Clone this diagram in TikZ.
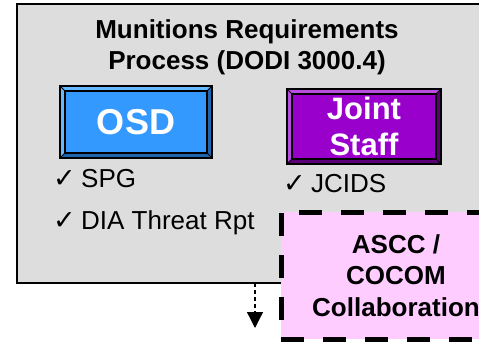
\documentclass[tikz,border=0pt]{standalone}
\usepackage{fontspec}
\setmainfont{Liberation Sans}
\newfontfamily\symfont{DejaVu Sans}
\usetikzlibrary{arrows.meta,calc}

\definecolor{panelgray}{HTML}{DDDDDD}
\definecolor{osdblue}{HTML}{3399FF}
\definecolor{osdlight}{HTML}{66B8FF}
\definecolor{osddark}{HTML}{1F66B0}
\definecolor{jsviolet}{HTML}{9900CC}
\definecolor{jslight}{HTML}{B84DE0}
\definecolor{jsdark}{HTML}{5C007A}
\definecolor{collabpink}{HTML}{FFCCFF}

\newcommand{\tick}{\makebox[28pt][l]{\symfont\fontsize{27}{27}\selectfont ✓}}
% raised border round a button node: #1 node, #2 light, #3 dark, #4 depth
\newcommand{\bevel}[4]{%
  \fill[#2] ($(#1.north west)+(-#4,-#4)$) -- ($(#1.north east)+(#4,-#4)$) -- (#1.north east)
    -- (#1.north west) -- (#1.south west) -- ($(#1.south west)+(-#4,#4)$) -- cycle;
  \fill[#3] ($(#1.north east)+(#4,-#4)$) -- ($(#1.south east)+(#4,#4)$) -- ($(#1.south west)+(-#4,#4)$)
    -- (#1.south west) -- (#1.south east) -- (#1.north east) -- cycle;
  \draw[line width=0.8pt] ($(#1.north west)+(-#4,-#4)$) -- (#1.north west)
    ($(#1.north east)+(#4,-#4)$) -- (#1.north east)
    ($(#1.south west)+(-#4,#4)$) -- (#1.south west)
    ($(#1.south east)+(#4,#4)$) -- (#1.south east);
  \draw[line width=1.6pt] ($(#1.north west)+(-#4,-#4)$) rectangle ($(#1.south east)+(#4,#4)$);
  \draw[line width=1.6pt] (#1.north west) rectangle (#1.south east);
}

\tikzset{
  panel/.style={draw=black, line width=1.2pt, fill=panelgray, outer sep=0pt, inner sep=0pt},
  heading/.style={font=\fontsize{26}{31}\selectfont\bfseries, align=center, inner sep=0pt},
  button/.style={draw=black, line width=1.6pt, text=white, font=\bfseries, align=center,
    inner sep=0pt, outer sep=0pt},
  item/.style={anchor=base west, inner sep=0pt, font=\fontsize{26}{31}\selectfont},
  collab/.style={draw=black, line width=5pt, dash pattern=on 23pt off 19pt, fill=collabpink,
    font=\fontsize{26}{31.5}\selectfont\bfseries, align=center, inner sep=0pt, outer sep=0pt,
    minimum width=230pt, minimum height=127pt},
  flow/.style={draw=black, line width=1.3pt, dash pattern=on 4pt off 3pt,
    -{Triangle[width=16pt,length=16pt]}}
}

\begin{document}
\begin{tikzpicture}[x=1pt,y=-1pt]
  \useasboundingbox (0,0) rectangle (479,343);
  \clip (0,0) rectangle (479,343);

  \node[panel, anchor=north west, minimum width=560pt, minimum height=279pt] (mrp) at (17,4) {};
  \node[heading] (title) at (247,47.5) {Munitions Requirements\\Process (DODI 3000.4)};

  % the two offices
  \node[button, fill=osdblue, minimum width=142pt, minimum height=62pt,
    font=\fontsize{36}{40}\selectfont\bfseries] (osd) at (136,122) {OSD};
  \bevel{osd}{osdlight}{osddark}{5}
  \node[button, fill=jsviolet, minimum width=144pt, minimum height=65pt,
    font=\fontsize{31}{36}\selectfont\bfseries] (js) at (364,126.5) {Joint\\Staff};
  \bevel{js}{jslight}{jsdark}{5}

  \node[item] (spg) at (53,187) {\tick SPG};
  \node[item] (dia) at (53,229) {\tick DIA Threat Rpt};
  \node[item] (jcids) at (283,192) {\tick JCIDS};

  \coordinate (drop) at (255,328);
  \draw[flow] (mrp.south -| drop) -- (drop);

  \node[collab] (ascc) at (396,275.5) {ASCC /\\COCOM\\Collaboration};
\end{tikzpicture}
\end{document}
